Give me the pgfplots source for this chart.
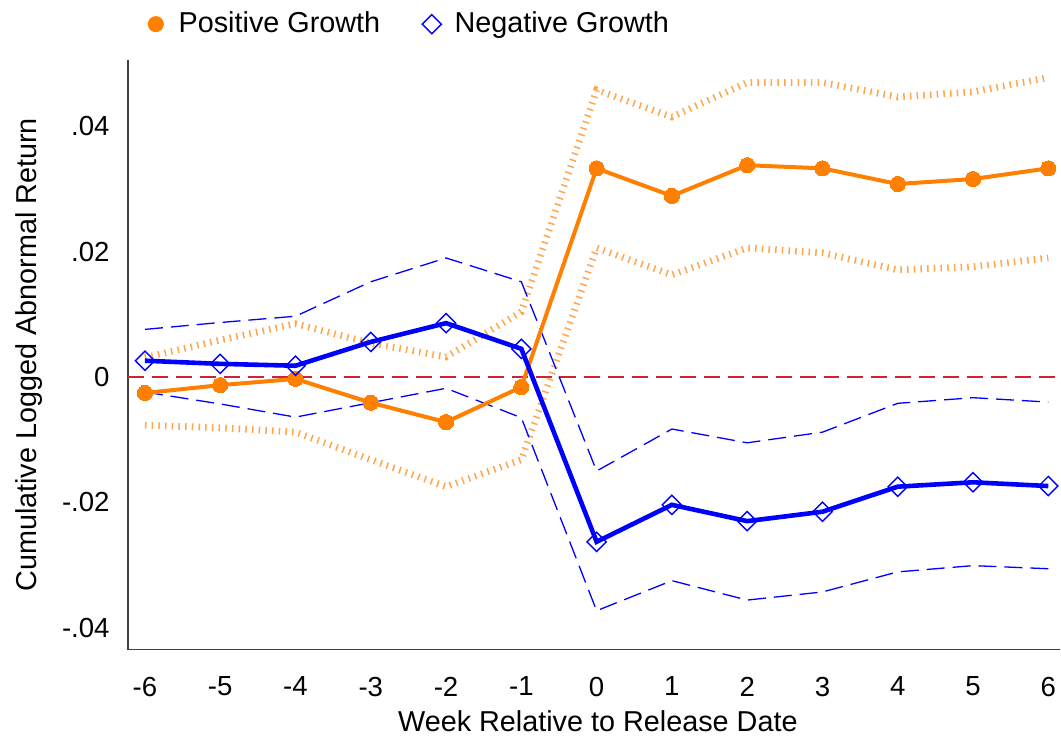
\documentclass[border=0pt]{standalone}
\usepackage{pgfplots}
\pgfplotsset{compat=1.18}
\usepackage{fontspec}
\setmainfont{Liberation Sans}
\definecolor{sorange}{RGB}{255,128,0}
\definecolor{lorange}{RGB}{255,165,75}
\definecolor{sblue}{RGB}{0,0,255}
\definecolor{zred}{RGB}{205,35,55}
\pgfplotsset{mylegimg/.style={legend image code/.code={\path (-3.8pt,0) (9.2pt,0); \draw[##1] plot coordinates {(0pt,0pt)};}}}
\begin{document}
\fontsize{14.4}{17}\selectfont
\begin{tikzpicture}
\begin{axis}[
  scale only axis,
  width=466.5pt, height=295pt,
  xmin=-6.226, xmax=6.16,
  ymin=-0.0435, ymax=0.0506,
  axis lines*=left,
  axis line style={black!75, line width=0.6pt},
  major tick length=0pt,
  xtick={-6,-5,...,6},
  ytick={-0.04,-0.02,0,0.02,0.04},
  yticklabels={-.04,-.02,0,.02,.04},
  scaled y ticks=false,
  /pgf/number format/assume math mode=true,
  tick label style={font=\fontsize{13.8}{16}\selectfont},
  xticklabel style={inner sep=0pt, anchor=north, yshift=-13.5pt},
  yticklabel style={inner sep=0pt, anchor=east, xshift=-9pt},
  xlabel={Week Relative to Release Date},
  ylabel={Cumulative Logged Abnormal Return},
  every axis x label/.style={at={(axis description cs:0.504,-0.122)}, anchor=center, font=\fontsize{14.4}{17}\selectfont},
  every axis y label/.style={at={(axis description cs:-0.106,0.5)}, rotate=90, anchor=center, font=\fontsize{14.4}{17}\selectfont},
  legend columns=2,
  legend style={draw=none, fill=none, inner sep=0pt, outer sep=0pt,
    at={(axis description cs:0.0214,1.0607)}, anchor=west,
    font=\fontsize{14.4}{17}\selectfont,
    /tikz/every even column/.append style={column sep=19pt}},
  clip=false,
]
% zero line
\addplot[forget plot, zred, line width=0.65pt, dash pattern=on 8pt off 4pt] coordinates {(-6.226,0) (6.16,0)};
% orange CIs
\addplot[forget plot, lorange, line width=3.4pt, dash pattern=on 0.75pt off 2.6pt] coordinates {
(-6,0.0031) (-5,0.0059) (-4,0.0085) (-3,0.0054) (-2,0.0032) (-1,0.0104) (0,0.0458) (1,0.0415) (2,0.0470) (3,0.0470) (4,0.0447) (5,0.0455) (6,0.0478)};
\addplot[forget plot, lorange, line width=3.4pt, dash pattern=on 0.75pt off 2.6pt] coordinates {
(-6,-0.0077) (-5,-0.0081) (-4,-0.0088) (-3,-0.0132) (-2,-0.0175) (-1,-0.0132) (0,0.0206) (1,0.0163) (2,0.0206) (3,0.0198) (4,0.0171) (5,0.0176) (6,0.0190)};
% blue CIs
\addplot[forget plot, sblue, line width=0.65pt, dash pattern=on 9pt off 4pt] coordinates {
(-6,0.0076) (-5,0.0087) (-4,0.0097) (-3,0.0152) (-2,0.0190) (-1,0.0152) (0,-0.0150) (1,-0.0083) (2,-0.0105) (3,-0.0088) (4,-0.0042) (5,-0.0033) (6,-0.0040)};
\addplot[forget plot, sblue, line width=0.65pt, dash pattern=on 9pt off 4pt] coordinates {
(-6,-0.0024) (-5,-0.0043) (-4,-0.0064) (-3,-0.0041) (-2,-0.0018) (-1,-0.0065) (0,-0.0373) (1,-0.0325) (2,-0.0356) (3,-0.0343) (4,-0.0311) (5,-0.0301) (6,-0.0306)};
% main lines
\addplot[forget plot, sorange, line width=2pt, mark=*, mark size=3.8pt, mark options={solid, fill=sorange, draw=sorange, line width=0pt}] coordinates {
(-6,-0.00255) (-5,-0.0013) (-4,-0.0003) (-3,-0.0041) (-2,-0.0072) (-1,-0.0016) (0,0.0333) (1,0.0289) (2,0.0338) (3,0.0333) (4,0.0308) (5,0.0316) (6,0.0333)};
\addplot[forget plot, sblue, line width=2.3pt, mark=square, mark size=3.4pt, mark options={solid, rotate=45, line width=0.7pt, draw=sblue, fill=none}] coordinates {
(-6,0.0026) (-5,0.0021) (-4,0.0018) (-3,0.0056) (-2,0.0086) (-1,0.0045) (0,-0.0263) (1,-0.0204) (2,-0.0230) (3,-0.0215) (4,-0.0175) (5,-0.0168) (6,-0.0174)};
\addlegendimage{mylegimg, only marks, mark=*, mark size=3.8pt, sorange, mark options={fill=sorange, draw=sorange}}
\addlegendentry{Positive Growth}
\addlegendimage{mylegimg, only marks, mark=square, mark size=3.4pt, sblue, mark options={rotate=45, line width=0.7pt, fill=none}}
\addlegendentry{Negative Growth}
\end{axis}
\useasboundingbox ([xshift=-64pt,yshift=-44.5pt]current axis.south west) rectangle ([yshift=30pt]current axis.north east);
\end{tikzpicture}
\end{document}
